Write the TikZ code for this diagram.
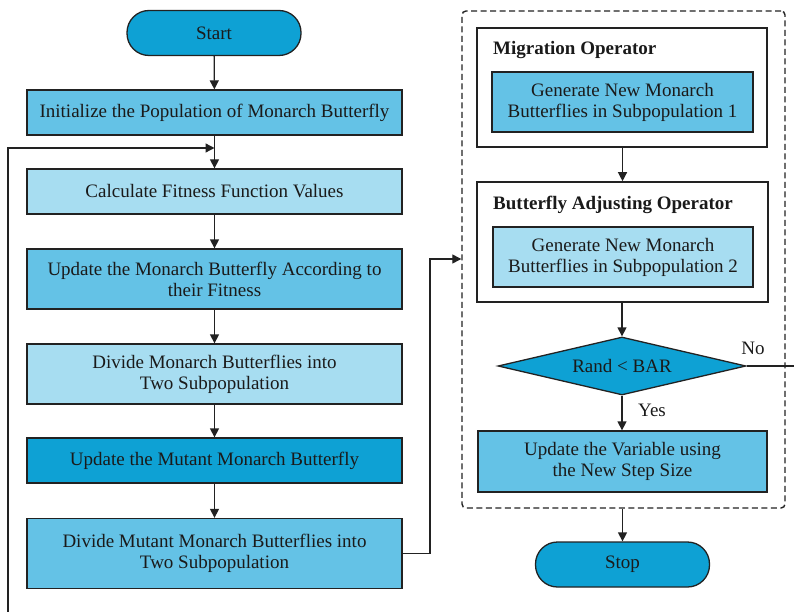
\documentclass[tikz,border=0pt]{standalone}
\usepackage{fontspec}
\setmainfont{Liberation Serif}
\usetikzlibrary{arrows.meta,shapes.geometric,calc}
\definecolor{cdark}{HTML}{0EA1D4}
\definecolor{cmid}{HTML}{64C2E6}
\definecolor{clight}{HTML}{A7DDF1}
\definecolor{cline}{HTML}{222222}
\definecolor{ctext}{HTML}{1A1A1A}
\begin{document}
\begin{tikzpicture}[x=1pt,y=-1pt,
  base/.style={draw=cline,line width=1.3pt,text=ctext,font=\fontsize{19}{21}\selectfont,align=center,inner sep=0pt},
  pill/.style={base,fill=cdark,rounded corners=22pt,minimum width=174pt,minimum height=45pt},
  procbox/.style={base,minimum width=375pt},
  subbox/.style={base,minimum width=260pt,minimum height=60pt},
  grpbox/.style={draw=cline,line width=1.6pt,fill=white,inner sep=0pt},
  arr/.style={draw=cline,line width=1.3pt,-{Triangle[length=9pt,width=9pt]}},
  ln/.style={draw=cline,line width=1.3pt},
  lbl/.style={text=ctext,font=\fontsize{19}{21}\selectfont,inner sep=0pt}
]
\useasboundingbox (0,0) rectangle (794,612);

% left column
\node[pill] (start) at (214,33) {Start};
\node[procbox,fill=cmid,minimum height=45pt] (init) at (214.5,112.5) {Initialize the Population of Monarch Butterfly};
\node[procbox,fill=clight,minimum height=45pt] (calc) at (214.5,191.5) {Calculate Fitness Function Values};
\node[procbox,fill=cmid,minimum height=60pt] (upd) at (214.5,279) {Update the Monarch Butterfly According to\\their Fitness};
\node[procbox,fill=clight,minimum height=60pt] (div) at (214.5,374) {Divide Monarch Butterflies into\\Two Subpopulation};
\node[procbox,fill=cdark,minimum height=45pt] (mut) at (214.5,460.5) {Update the Mutant Monarch Butterfly};
\node[procbox,fill=cmid,minimum height=70pt] (dm) at (214.5,553.5) {Divide Mutant Monarch Butterflies into\\Two Subpopulation};

% right group
\node[draw=cline,line width=1.4pt,dash pattern=on 6pt off 3.5pt,rounded corners=4pt,minimum width=323pt,minimum height=497pt,inner sep=0pt] (grp) at (623.5,259.5) {};

\node[grpbox,minimum width=290pt,minimum height=119pt] (mig) at (622,87.5) {};
\node[lbl,anchor=west,font=\fontsize{19}{21}\selectfont\bfseries] (migt) at (493,50) {Migration Operator};
\node[subbox,fill=cmid,minimum width=261pt] (gen1) at (622.5,102) {Generate New Monarch\\Butterflies in Subpopulation 1};

\node[grpbox,minimum width=291pt,minimum height=120pt] (adj) at (622.5,242) {};
\node[lbl,anchor=west,font=\fontsize{19}{21}\selectfont\bfseries] (adjt) at (493,205) {Butterfly Adjusting Operator};
\node[subbox,fill=clight,minimum width=260pt] (gen2) at (623,257) {Generate New Monarch\\Butterflies in Subpopulation 2};

\node[base,diamond,fill=cdark,aspect=4.28,minimum width=248pt,minimum height=58pt] (dia) at (622,366) {Rand < BAR};
\node[base,fill=cmid,minimum width=289pt,minimum height=61pt] (var) at (622.5,461.5) {Update the Variable using\\the New Step Size};

\node[pill] (stop) at (622.5,564.5) {Stop};

\node[lbl] (yes) at (652,410) {Yes};
\node[lbl] (no) at (753,348) {No};

% connectors
\draw[arr] (start) -- (init);
\draw[arr] (init) -- (calc);
\draw[arr] (calc) -- (upd);
\draw[arr] (upd) -- (div);
\draw[arr] (div) -- (mut);
\draw[arr] (mut) -- (dm);

\coordinate (lb) at (8,612);
\coordinate (lt) at (8,148);
\coordinate (lj) at (214.5,148);
\draw[arr] (lb) -- (lt) -- (lj);

\coordinate (turn) at (430,259);
\draw[arr] (dm.east) -| (turn) -- (turn -| grp.west);

\draw[arr] (mig.south -| gen1) -- (adj.north -| gen1);
\draw[arr] (adj.south -| dia) -- (dia.north);
\draw[arr] (dia.south) -- (var.north -| dia);
\coordinate (noend) at (794,366);
\draw[ln] (dia.east) -- (noend);
\draw[arr] (grp.south -| stop) -- (stop.north);
\end{tikzpicture}
\end{document}
